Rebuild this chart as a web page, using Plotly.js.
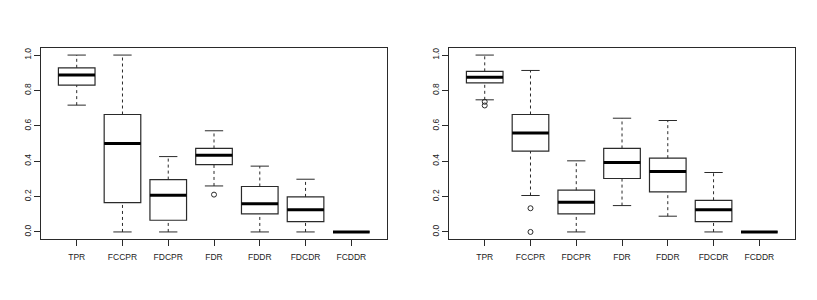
<!DOCTYPE html>
<html><head><meta charset="utf-8">
<script src="https://cdn.plot.ly/plotly-3.0.1.min.js"></script>
<style>html,body{margin:0;padding:0;background:#fff}#c{width:817px;height:300px}</style>
</head><body><div id="c"></div>
<script>
const categories = ["TPR","FCCPR","FDCPR","FDR","FDDR","FDCDR","FCDDR"];
const yTickVals = [0, 0.2, 0.4, 0.6, 0.8, 1.0];

// Left panel
const lowA = [0.717, 0, 0, 0.26, 0, 0, 0];
const q1A  = [0.830, 0.166, 0.066, 0.381, 0.102, 0.058, 0];
const medA = [0.887, 0.5, 0.2075, 0.434, 0.16, 0.126, 0];
const q3A  = [0.928, 0.664, 0.296, 0.472, 0.257, 0.198, 0];
const hiA  = [1.0, 1.0, 0.426, 0.572, 0.372, 0.298, 0];
const outCatA = ["FDR"];
const outValA = [0.211];

// Right panel
const lowB = [0.747, 0.206, 0, 0.149, 0.089, 0, 0];
const q1B  = [0.843, 0.457, 0.102, 0.302, 0.226, 0.058, 0];
const medB = [0.875, 0.560, 0.168, 0.392, 0.342, 0.126, 0];
const q3B  = [0.908, 0.664, 0.236, 0.472, 0.417, 0.179, 0];
const hiB  = [1.0, 0.913, 0.402, 0.643, 0.630, 0.336, 0];
const outCatB = ["TPR","TPR","FCCPR","FCCPR"];
const outValB = [0.736, 0.715, 0.134, 0.0];

const BOXW = 0.8, CAPW = 0.4;
const LC = "#2a2a2a";

function panel(low, q1, med, q3, hi, outCat, outVal, xa, ya) {
  const pos = categories.map((c, i) => i + 1);
  const traces = [];
  traces.push({
    type: "box", x: pos, q1: q1, median: med, q3: q3,
    lowerfence: q1, upperfence: q3, width: BOXW,
    fillcolor: "#fff", line: {color: LC, width: 1.2},
    boxpoints: false, hoverinfo: "skip", xaxis: xa, yaxis: ya, showlegend: false
  });
  const wx = [], wy = [];
  pos.forEach((p, i) => {
    wx.push(p, p, null, p, p, null);
    wy.push(q3[i], hi[i], null, low[i], q1[i], null);
  });
  traces.push({type: "scatter", mode: "lines", x: wx, y: wy,
    line: {color: LC, width: 1, dash: "3px,3px"}, hoverinfo: "skip",
    xaxis: xa, yaxis: ya, showlegend: false});
  const sx = [], sy = [];
  pos.forEach((p, i) => {
    sx.push(p - CAPW/2, p + CAPW/2, null, p - CAPW/2, p + CAPW/2, null);
    sy.push(hi[i], hi[i], null, low[i], low[i], null);
  });
  traces.push({type: "scatter", mode: "lines", x: sx, y: sy,
    line: {color: LC, width: 1}, hoverinfo: "skip",
    xaxis: xa, yaxis: ya, showlegend: false});
  const mx = [], my = [];
  pos.forEach((p, i) => {
    mx.push(p - BOXW/2, p + BOXW/2, null);
    my.push(med[i], med[i], null);
  });
  traces.push({type: "scatter", mode: "lines", x: mx, y: my,
    line: {color: "#000", width: 3}, hoverinfo: "skip",
    xaxis: xa, yaxis: ya, showlegend: false});
  traces.push({type: "scatter", mode: "markers",
    x: outCat.map(c => categories.indexOf(c) + 1), y: outVal,
    marker: {symbol: "circle-open", size: 5, color: LC, line: {width: 1, color: LC}},
    hoverinfo: "skip", xaxis: xa, yaxis: ya, showlegend: false});
  return traces;
}

const data = [].concat(
  panel(lowA, q1A, medA, q3A, hiA, outCatA, outValA, "x", "y"),
  panel(lowB, q1B, medB, q3B, hiB, outCatB, outValB, "x2", "y2")
);

const font = {family: "Liberation Sans, Arial, sans-serif", size: 8.5, color: "#222"};
function xAxis(dom, anchor) {
  return {domain: dom, anchor: anchor, range: [0.22, 7.78],
    tickmode: "array", tickvals: categories.map((c, i) => i + 1), ticktext: categories,
    ticks: "outside", ticklen: 6, tickcolor: LC, tickwidth: 1,
    showline: true, mirror: true, linecolor: LC, linewidth: 1,
    showgrid: false, zeroline: false, tickfont: font, ticklabelstandoff: 4, fixedrange: true};
}
function yAxis(anchor) {
  return {domain: [0.2033, 0.84], anchor: anchor, range: [-0.04, 1.04],
    tickmode: "array", tickvals: yTickVals, ticktext: yTickVals.map(v => v.toFixed(1)),
    tickangle: -90,
    ticks: "outside", ticklen: 6, tickcolor: LC, tickwidth: 1,
    showline: true, mirror: true, linecolor: LC, linewidth: 1,
    showgrid: false, zeroline: false, tickfont: font, fixedrange: true};
}

const layout = {
  width: 817, height: 300,
  margin: {l: 0, r: 0, t: 0, b: 0},
  paper_bgcolor: "#fff", plot_bgcolor: "#fff",
  showlegend: false,
  xaxis: xAxis([0.0502, 0.4737], "y"),
  yaxis: yAxis("x"),
  xaxis2: xAxis([0.5496, 0.9731], "y2"),
  yaxis2: yAxis("x2"),
  font: font
};

Plotly.newPlot("c", data, layout, {displayModeBar: false, staticPlot: true});
</script>
</body></html>
